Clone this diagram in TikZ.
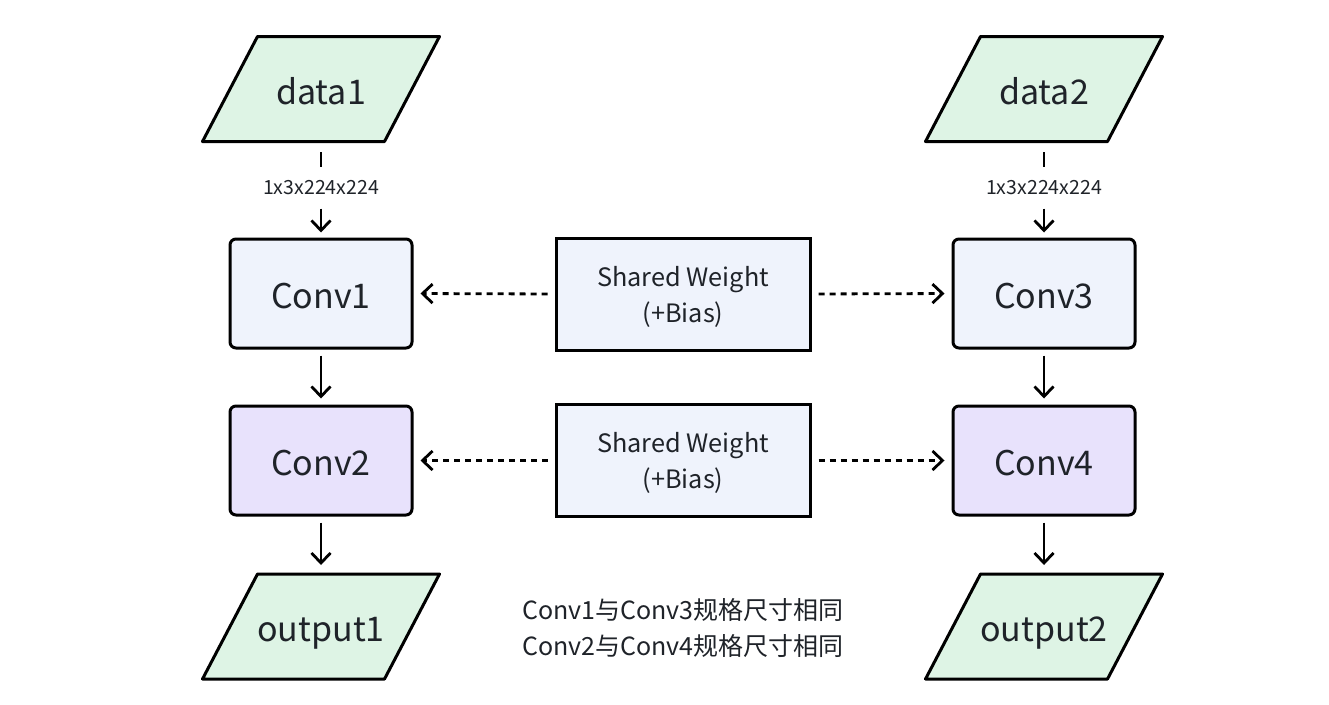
\documentclass[tikz,border=0pt]{standalone}
\usepackage{fontspec}
\setmainfont{Noto Sans CJK SC}
\usetikzlibrary{arrows.meta,backgrounds}
\definecolor{txt}{HTML}{1F2329}
\definecolor{gfill}{HTML}{DEF4E5}
\definecolor{bfill}{HTML}{EFF3FC}
\definecolor{pfill}{HTML}{E8E2FC}
\tikzset{
  io/.style={rectangle, minimum width=182pt, minimum height=105pt, inner sep=0pt, outer sep=0pt,
    text=txt, text height=30pt, text depth=0pt, font=\fontsize{34}{40}\selectfont},
  ioshape/.style={draw=black, line width=3pt, line join=round, fill=gfill},
  conv/.style={rectangle, rounded corners=6pt, draw=black, line width=3pt, minimum width=182pt,
    minimum height=109pt, inner sep=0pt, text=txt, text height=30pt, text depth=0pt,
    font=\fontsize{34}{40}\selectfont},
  shared/.style={rectangle, draw=black, line width=3pt, fill=bfill, minimum width=254pt,
    minimum height=112pt, inner sep=0pt, text=txt, align=center, font=\fontsize{25.3}{36}\selectfont},
  dimlab/.style={inner sep=0pt, minimum height=41pt, text=txt, font=\fontsize{19.5}{22}\selectfont},
  flow/.style={line width=2.8pt, -{Straight Barb[length=10pt,width=19pt,line width=2.8pt]}},
  dflow/.style={flow, dash pattern=on 6pt off 5pt},
}
\begin{document}
\begin{tikzpicture}[x=1pt,y=-1pt]
\useasboundingbox (0,0) rectangle (1329,704);
% left column
\node[io] (d1) at (321,89) {data1};
\node[dimlab] (l1) at (321,188) {1x3x224x224};
\node[conv, fill=bfill] (c1) at (321,293.5) {Conv1};
\node[conv, fill=pfill] (c2) at (321,460.5) {Conv2};
\node[io] (o1) at (321,626.5) {output1};
% right column
\node[io] (d2) at (1044,89) {data2};
\node[dimlab] (l2) at (1044,188) {1x3x224x224};
\node[conv, fill=bfill] (c3) at (1044,293.5) {Conv3};
\node[conv, fill=pfill] (c4) at (1044,460.5) {Conv4};
\node[io] (o2) at (1044,626.5) {output2};
% parallelogram outlines behind the io nodes
\begin{scope}[on background layer]
\foreach \n in {d1,o1,d2,o2}{
  \draw[ioshape] ([xshift=27.5pt]\n.north west) -- ([xshift=27.5pt]\n.north east)
    -- ([xshift=-27.5pt]\n.south east) -- ([xshift=-27.5pt]\n.south west) -- cycle;
}
\end{scope}
% shared
\node[shared] (s1) at (683,294) {\rule{0pt}{25pt}Shared Weight\\(+Bias)};
\node[shared] (s2) at (683,460.5) {\rule{0pt}{25pt}Shared Weight\\(+Bias)};
% note
\node[text=txt, align=left, inner sep=0pt, font=\fontsize{25}{36}\selectfont] (note) at (683,628)
  {Conv1与Conv3规格尺寸相同\\Conv2与Conv4规格尺寸相同};
% connectors
\draw[line width=2.8pt, shorten <=10.5pt] (d1.south) -- (l1.north);
\draw[flow, shorten >=5pt] (l1.south) -- (c1.north);
\draw[line width=2.8pt, shorten <=10.5pt] (d2.south) -- (l2.north);
\draw[flow, shorten >=5pt] (l2.south) -- (c3.north);
\draw[flow, shorten <=6pt, shorten >=6pt] (c1.south) -- (c2.north);
\draw[flow, shorten <=6pt, shorten >=9pt] (c2.south) -- (o1.north);
\draw[flow, shorten <=6pt, shorten >=6pt] (c3.south) -- (c4.north);
\draw[flow, shorten <=6pt, shorten >=9pt] (c4.south) -- (o2.north);
\draw[dflow, shorten <=7pt, shorten >=7pt] (s1.west) -- (c1.east);
\draw[dflow, shorten <=7pt, shorten >=7pt] (s1.east) -- (c3.west);
\draw[dflow, shorten <=7pt, shorten >=7pt] (s2.west) -- (c2.east);
\draw[dflow, shorten <=7pt, shorten >=7pt] (s2.east) -- (c4.west);
\end{tikzpicture}
\end{document}
